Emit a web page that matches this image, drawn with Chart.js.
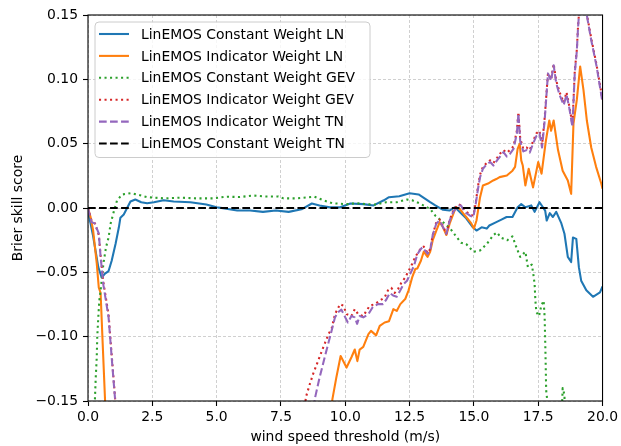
<!DOCTYPE html>
<html>
<head>
<meta charset="utf-8">
<script src="https://cdn.jsdelivr.net/npm/chart.js@4/dist/chart.umd.min.js"></script>
<style>
  html, body { margin: 0; padding: 0; background: #ffffff; }
  #wrap { width: 621px; height: 446px; }
</style>
</head>
<body>
<div id="wrap"><canvas id="bss" width="621" height="446"></canvas></div>
<script>
// Brier skill score against wind speed threshold, [threshold (m/s), BSS] pairs per model
const lnConstant = [
  [0,-0.003],[0.1,-0.012],[0.2,-0.022],[0.3,-0.034],[0.4,-0.046],[0.53,-0.054],[0.66,-0.051],
  [0.8,-0.049],[0.92,-0.041],[1.07,-0.028],[1.2,-0.015],[1.26,-0.0075],[1.39,-0.005],[1.52,0.0],
  [1.65,0.005],[1.84,0.0066],[2.07,0.0045],[2.3,0.0037],[2.56,0.0045],[2.94,0.006],[3.33,0.005],
  [3.98,0.0045],[4.6,0.0027],[5.0,0.0006],[5.43,-0.0007],[5.8,-0.002],[6.3,-0.002],[6.8,-0.003],
  [7.3,-0.002],[7.8,-0.003],[8.3,-0.001],[8.7,0.0035],[9.0,0.002],[9.4,0.0006],[9.8,0.0006],
  [10.2,0.0035],[10.7,0.003],[11.1,0.002],[11.5,0.006],[11.7,0.0084],[12.1,0.0092],[12.5,0.0115],
  [12.85,0.0105],[13.3,0.0045],[13.5,0.002],[13.8,-0.0014],[14.05,-0.002],[14.27,0.0006],
  [14.5,-0.004],[14.7,-0.008],[14.96,-0.015],[15.1,-0.0175],[15.3,-0.015],[15.5,-0.016],
  [15.6,-0.0136],[15.87,-0.011],[16.07,-0.009],[16.27,-0.007],[16.5,-0.007],[16.7,0.0006],
  [16.84,0.003],[17.0,0.0006],[17.23,0.002],[17.36,-0.003],[17.55,0.0045],[17.77,-0.002],
  [17.83,-0.0097],[17.95,-0.004],[18.07,-0.007],[18.2,-0.003],[18.4,-0.012],[18.52,-0.02],
  [18.65,-0.038],[18.78,-0.042],[18.85,-0.023],[18.98,-0.024],[19.08,-0.046],[19.17,-0.0565],
  [19.37,-0.064],[19.63,-0.069],[19.9,-0.0656],[20.0,-0.061]
];

const lnIndicator = [
  [0,0],[0.1,-0.007],[0.2,-0.0175],[0.34,-0.043],[0.42,-0.062],[0.49,-0.066],[0.57,-0.105],
  [0.66,-0.148],[0.8,-0.22],[1.5,-0.5],[5,-0.8],[9,-0.3],[9.4,-0.175],[9.5,-0.1485],[9.65,-0.132],
  [9.82,-0.115],[10.05,-0.124],[10.24,-0.116],[10.37,-0.11],[10.47,-0.119],[10.56,-0.11],
  [10.7,-0.108],[10.9,-0.098],[11.0,-0.0955],[11.2,-0.099],[11.34,-0.0916],[11.53,-0.089],
  [11.7,-0.088],[11.87,-0.0786],[12.0,-0.08],[12.14,-0.0747],[12.33,-0.0708],[12.46,-0.064],
  [12.6,-0.054],[12.72,-0.0475],[12.8,-0.047],[12.94,-0.041],[13.05,-0.034],[13.2,-0.038],
  [13.3,-0.034],[13.4,-0.025],[13.54,-0.0175],[13.67,-0.011],[13.8,-0.015],[13.93,-0.021],
  [14.06,-0.012],[14.2,-0.0045],[14.3,0.0006],[14.45,-0.0007],[14.6,-0.0045],[14.7,-0.007],
  [14.9,-0.012],[15.0,-0.016],[15.1,-0.0097],[15.24,0.0084],[15.35,0.0175],[15.55,0.019],
  [15.75,0.0214],[15.87,0.0225],[16.0,0.024],[16.28,0.0253],[16.5,0.029],[16.6,0.032],
  [16.7,0.046],[16.78,0.05],[16.84,0.037],[16.9,0.033],[17.0,0.0175],[17.13,0.0305],
  [17.3,0.016],[17.5,0.0357],[17.63,0.0267],[17.8,0.0526],[17.93,0.068],[18.0,0.06],
  [18.1,0.068],[18.27,0.045],[18.45,0.029],[18.65,0.0214],[18.78,0.011],[18.87,0.0656],
  [19.0,0.084],[19.13,0.11],[19.26,0.0916],[19.39,0.068],[19.56,0.047],[19.75,0.032],
  [19.95,0.019],[20.0,0.015]
];

const gevConstant = [
  [0.1,-0.5],[0.2,-0.3],[0.27,-0.148],[0.3,-0.132],[0.34,-0.116],[0.36,-0.1],[0.4,-0.085],
  [0.44,-0.072],[0.49,-0.064],[0.53,-0.0565],[0.6,-0.043],[0.7,-0.0305],[0.8,-0.023],
  [0.88,-0.012],[1.0,-0.003],[1.13,0.006],[1.33,0.0105],[1.65,0.0115],[1.9,0.0105],[2.3,0.0084],
  [2.95,0.0075],[3.57,0.008],[4.2,0.0075],[4.85,0.0075],[5.4,0.0088],[5.9,0.0085],[6.4,0.0097],
  [6.9,0.009],[7.4,0.009],[7.6,0.0075],[8.1,0.0075],[8.8,0.0088],[9.15,0.006],[9.5,0.0037],
  [10.05,0.003],[10.43,0.0037],[10.85,0.003],[11.2,0.0027],[11.6,0.0045],[12.0,0.0045],
  [12.4,0.0066],[12.6,0.006],[12.9,0.0035],[13.3,-0.0007],[13.5,-0.006],[13.8,-0.011],
  [14.08,-0.016],[14.27,-0.021],[14.5,-0.027],[14.7,-0.028],[14.98,-0.034],[15.24,-0.033],
  [15.5,-0.028],[15.76,-0.021],[15.9,-0.019],[16.05,-0.023],[16.3,-0.025],[16.5,-0.022],
  [16.65,-0.0305],[16.8,-0.038],[17.0,-0.034],[17.1,-0.046],[17.25,-0.044],[17.3,-0.05],
  [17.36,-0.059],[17.39,-0.072],[17.43,-0.081],[17.53,-0.084],[17.62,-0.076],[17.71,-0.072],
  [17.75,-0.085],[17.78,-0.111],[17.81,-0.142],[17.85,-0.149],[17.9,-0.2],[18.1,-0.3],
  [18.35,-0.2],[18.45,-0.14],[18.52,-0.145],[18.6,-0.25],[19.0,-0.4],[20.0,-0.5]
];

const gevIndicator = [
  [0,0],[0.14,-0.01],[0.27,-0.012],[0.42,-0.021],[0.49,-0.037],[0.6,-0.058],[0.8,-0.083],
  [0.92,-0.114],[1.05,-0.147],[1.3,-0.25],[3,-0.6],[7,-0.5],[8.2,-0.2],[8.47,-0.147],
  [8.62,-0.137],[8.75,-0.129],[8.94,-0.119],[9.14,-0.1085],[9.35,-0.098],[9.48,-0.093],
  [9.6,-0.0825],[9.8,-0.0747],[9.93,-0.076],[10.05,-0.0825],[10.24,-0.084],[10.37,-0.0786],
  [10.5,-0.0825],[10.7,-0.084],[10.82,-0.08],[10.95,-0.076],[11.15,-0.0747],[11.34,-0.072],
  [11.53,-0.0695],[11.66,-0.064],[11.79,-0.062],[11.92,-0.066],[12.05,-0.063],[12.18,-0.058],
  [12.33,-0.054],[12.46,-0.049],[12.6,-0.0435],[12.72,-0.038],[12.85,-0.034],[12.95,-0.031],
  [13.05,-0.03],[13.2,-0.035],[13.3,-0.032],[13.4,-0.021],[13.54,-0.011],[13.67,-0.009],
  [13.8,-0.014],[13.93,-0.02],[14.06,-0.009],[14.2,-0.002],[14.4,0.003],[14.5,0.002],
  [14.64,-0.002],[14.85,-0.005],[14.98,-0.006],[15.07,0.004],[15.16,0.017],[15.24,0.026],
  [15.35,0.032],[15.5,0.035],[15.63,0.037],[15.76,0.035],[15.9,0.039],[16.0,0.042],
  [16.15,0.045],[16.28,0.043],[16.4,0.045],[16.54,0.048],[16.67,0.06],[16.73,0.0745],
  [16.8,0.054],[16.92,0.046],[17.05,0.047],[17.17,0.045],[17.3,0.052],[17.43,0.058],
  [17.55,0.06],[17.65,0.049],[17.75,0.07],[17.88,0.105],[18.0,0.1],[18.1,0.112],[18.2,0.099],
  [18.33,0.09],[18.49,0.082],[18.6,0.09],[18.7,0.08],[18.83,0.065],[18.92,0.106],[19.0,0.123],
  [19.05,0.142],[19.12,0.16],[19.2,0.175],[19.3,0.165],[19.37,0.153],[19.56,0.132],
  [19.77,0.111],[19.95,0.09],[20.0,0.084]
];

const tnIndicator = [
  [0,0],[0.14,-0.011],[0.27,-0.012],[0.42,-0.02],[0.49,-0.038],[0.6,-0.06],[0.8,-0.085],
  [0.92,-0.116],[1.05,-0.148],[1.3,-0.25],[3,-0.6],[7,-0.5],[8.5,-0.2],[8.82,-0.148],
  [9.0,-0.132],[9.2,-0.116],[9.4,-0.1007],[9.6,-0.085],[9.72,-0.081],[9.85,-0.079],
  [10.0,-0.085],[10.1,-0.089],[10.24,-0.084],[10.37,-0.085],[10.46,-0.09],[10.56,-0.084],
  [10.7,-0.085],[10.9,-0.0825],[11.07,-0.077],[11.27,-0.0747],[11.47,-0.0747],[11.6,-0.071],
  [11.73,-0.066],[11.86,-0.068],[12.0,-0.069],[12.14,-0.064],[12.27,-0.059],[12.4,-0.0565],
  [12.53,-0.051],[12.67,-0.045],[12.8,-0.036],[12.93,-0.032],[13.0,-0.0305],[13.2,-0.0357],
  [13.3,-0.033],[13.4,-0.021],[13.54,-0.012],[13.67,-0.0097],[13.8,-0.015],[13.93,-0.02],
  [14.06,-0.0097],[14.2,-0.003],[14.4,0.002],[14.5,0.002],[14.64,-0.003],[14.85,-0.006],
  [14.98,-0.007],[15.07,0.003],[15.16,0.015],[15.24,0.024],[15.35,0.0305],[15.5,0.034],
  [15.63,0.0357],[15.76,0.033],[15.9,0.037],[16.0,0.0396],[16.15,0.0435],[16.28,0.04],
  [16.4,0.042],[16.54,0.046],[16.67,0.058],[16.73,0.0734],[16.8,0.052],[16.92,0.044],
  [17.05,0.045],[17.17,0.043],[17.3,0.05],[17.43,0.056],[17.55,0.058],[17.65,0.047],
  [17.75,0.068],[17.88,0.1046],[18.0,0.099],[18.1,0.111],[18.2,0.097],[18.33,0.088],
  [18.49,0.08],[18.6,0.088],[18.7,0.0786],[18.83,0.063],[18.92,0.1046],[19.0,0.122],
  [19.05,0.141],[19.12,0.16],[19.2,0.175],[19.3,0.165],[19.37,0.152],[19.56,0.1305],
  [19.77,0.11],[19.95,0.088],[20.0,0.082]
];

const tnConstant = [[0,0],[20,0]];

const seriesNames = [
  'LinEMOS Constant Weight LN',
  'LinEMOS Indicator Weight LN',
  'LinEMOS Constant Weight GEV',
  'LinEMOS Indicator Weight GEV',
  'LinEMOS Indicator Weight TN',
  'LinEMOS Constant Weight TN'
];

const xTickValues = [0, 2.5, 5, 7.5, 10, 12.5, 15, 17.5, 20];
const yTickValues = [-0.15, -0.10, -0.05, 0.00, 0.05, 0.10, 0.15];

// line styles (2.08 px ≈ 1.5 pt at 100 dpi)
const LW = 2.08;
const DOTTED = [LW * 1.0, LW * 1.65];
const DASHED = [LW * 3.7, LW * 1.6];
const styles = [
  { color: '#1f77b4', dash: [] },
  { color: '#ff7f0e', dash: [] },
  { color: '#2ca02c', dash: DOTTED },
  { color: '#d62728', dash: DOTTED },
  { color: '#9467bd', dash: DASHED },
  { color: '#000000', dash: DASHED }
];
const seriesData = [lnConstant, lnIndicator, gevConstant, gevIndicator, tnIndicator, tnConstant];

const FONT = 'DejaVu Sans';
const FS = 13.9;
Chart.defaults.font.family = FONT;
Chart.defaults.font.size = FS;
Chart.defaults.color = '#000000';

const fmt = v => {
  const s = (Math.round(v * 100) / 100).toFixed(2);
  return s.startsWith('-') && s !== '-0.00' ? '\u2212' + s.slice(1) : s.replace('-', '');
};

// frame around the axes and legend box in the upper left corner
const framePlugin = {
  id: 'frame',
  afterDraw(chart) {
    const { ctx, chartArea: a } = chart;
    ctx.save();
    ctx.strokeStyle = '#000000';
    ctx.lineWidth = 1.1;
    ctx.setLineDash([]);
    ctx.strokeRect(a.left, a.top, a.right - a.left, a.bottom - a.top);

    // legend
    const bx = a.left + 7, by = a.top + 7, bw = 275, bh = 135.5, r = 4;
    ctx.beginPath();
    ctx.moveTo(bx + r, by);
    ctx.arcTo(bx + bw, by, bx + bw, by + bh, r);
    ctx.arcTo(bx + bw, by + bh, bx, by + bh, r);
    ctx.arcTo(bx, by + bh, bx, by, r);
    ctx.arcTo(bx, by, bx + bw, by, r);
    ctx.closePath();
    ctx.fillStyle = 'rgba(255,255,255,0.8)';
    ctx.fill();
    ctx.strokeStyle = '#cccccc';
    ctx.lineWidth = 1;
    ctx.stroke();

    ctx.font = FS + 'px "' + FONT + '"';
    ctx.textBaseline = 'middle';
    ctx.textAlign = 'left';
    seriesNames.forEach((name, i) => {
      const cy = by + 12 + i * 21.9;
      ctx.beginPath();
      ctx.strokeStyle = styles[i].color;
      ctx.lineWidth = LW;
      ctx.lineCap = 'butt';
      ctx.setLineDash(styles[i].dash);
      ctx.moveTo(bx + 4, cy);
      ctx.lineTo(bx + 34, cy);
      ctx.stroke();
      ctx.setLineDash([]);
      ctx.fillStyle = '#000000';
      ctx.fillText(name, bx + 46, cy + 1);
    });
    ctx.restore();
  }
};

const datasets = seriesData.map((pts, i) => ({
  label: seriesNames[i],
  data: pts.map(p => ({ x: p[0], y: p[1] })),
  borderColor: styles[i].color,
  backgroundColor: styles[i].color,
  borderWidth: LW,
  borderDash: styles[i].dash,
  borderCapStyle: 'butt',
  borderJoinStyle: 'round',
  pointRadius: 0,
  tension: 0,
  fill: false,
  clip: 0,
  order: seriesData.length - i
}));

new Chart(document.getElementById('bss'), {
  type: 'line',
  data: { datasets },
  options: {
    responsive: false,
    devicePixelRatio: 1,
    animation: false,
    layout: { padding: { top: 15, right: 18, left: 0, bottom: 0 } },
    plugins: { legend: { display: false }, tooltip: { enabled: false } },
    scales: {
      x: {
        type: 'linear',
        min: 0, max: 20,
        afterFit(s) { s.height = 45; },
        afterBuildTicks(s) { s.ticks = xTickValues.map(v => ({ value: v })); },
        ticks: { autoSkip: false, maxRotation: 0, padding: 3, color: '#000',
                 callback: v => v.toFixed(1) },
        grid: { color: 'rgba(176,176,176,0.75)', lineWidth: 0.8, tickColor: '#000',
                tickLength: 5, tickWidth: 1.1, tickBorderDash: [] },
        border: { display: false, dash: [3, 2] },
        title: { display: true, text: 'wind speed threshold (m/s)', color: '#000',
                 font: { size: FS }, padding: { top: 0, bottom: 0 } }
      },
      y: {
        type: 'linear',
        min: -0.15, max: 0.15,
        afterFit(s) { s.width = 88; },
        afterBuildTicks(s) { s.ticks = yTickValues.map(v => ({ value: v })); },
        ticks: { autoSkip: false, padding: 5, color: '#000', callback: v => fmt(v) },
        grid: { color: 'rgba(176,176,176,0.75)', lineWidth: 0.8, tickColor: '#000',
                tickLength: 5, tickWidth: 1.1, tickBorderDash: [] },
        border: { display: false, dash: [3, 2] },
        title: { display: true, text: 'Brier skill score', color: '#000',
                 font: { size: FS }, padding: { top: 10, bottom: 0 } }
      }
    }
  },
  plugins: [framePlugin]
});
</script>
</body>
</html>
